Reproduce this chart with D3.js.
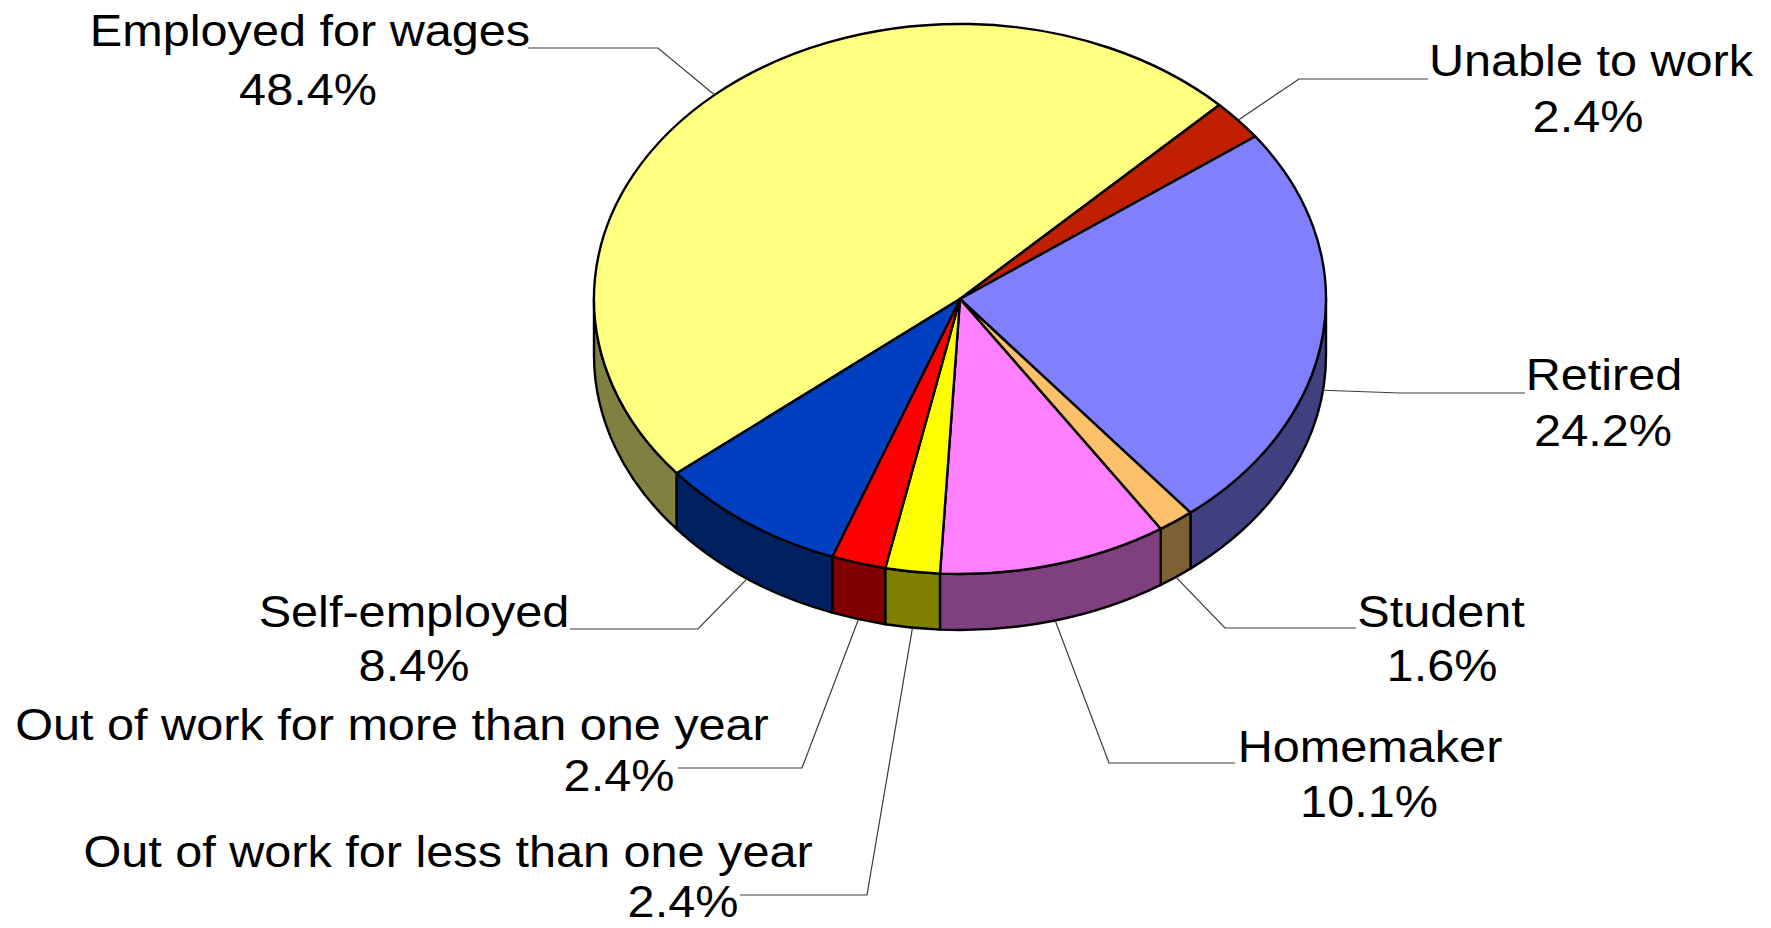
<!DOCTYPE html>
<html>
<head>
<meta charset="utf-8">
<script src="https://cdn.jsdelivr.net/npm/d3@7"></script>
<style>
  html, body { margin: 0; padding: 0; background: #ffffff; }
  svg { display: block; }
  text { font-family: "Liberation Sans", Arial, sans-serif; fill: #000; }
</style>
</head>
<body>
<svg id="chart" width="1771" height="928"></svg>
<script>
// Employment status shares (percent)
const categories = [
  "Employed for wages",
  "Unable to work",
  "Retired",
  "Student",
  "Homemaker",
  "Out of work for less than one year",
  "Out of work for more than one year",
  "Self-employed"
];
const percents = [48.4, 2.4, 24.2, 1.6, 10.1, 2.4, 2.4, 8.4];
const topColors = ["#FFFF80", "#C02000", "#8080FF", "#FCBF6A", "#FF80FF", "#FFFF00", "#FF0000", "#0040C0"];

// Label placement: line-1 anchor, line-2 anchor, leader start (at text) and elbow
const labelLayout = [
  { l1: [310, 46],  l2: [308, 105],  from: [528, 48],  elbow: [658, 48] },
  { l1: [1591, 76], l2: [1588, 132], from: [1428, 79], elbow: [1299, 79] },
  { l1: [1604, 390], l2: [1603, 446], from: [1525, 393], elbow: [1400, 393] },
  { l1: [1441, 627], l2: [1442, 681], from: [1356, 628], elbow: [1225, 628] },
  { l1: [1370, 762], l2: [1369, 817], from: [1235, 763], elbow: [1109, 763] },
  { l1: [448, 867],  l2: [683, 917],  from: [740, 895],  elbow: [867, 895] },
  { l1: [392, 740],  l2: [619, 791],  from: [678, 768],  elbow: [802, 768] },
  { l1: [414, 627],  l2: [414, 681],  from: [570, 629],  elbow: [698, 629] }
];

const svg = d3.select("#chart");
svg.append("rect").attr("width", 1771).attr("height", 928).attr("fill", "#ffffff");

// 3-D pie geometry
const cx = 960, cy = 299, rx = 366, ry = 275, depth = 56;
const firstSliceAngle = -129.3 * Math.PI / 180;

const pie = d3.pie().sort(null).value(d => d)
  .startAngle(firstSliceAngle)
  .endAngle(firstSliceAngle + 2 * Math.PI);
const slices = pie(percents);

const pt = (a, dz) => [cx + rx * Math.sin(a), cy - ry * Math.cos(a) + dz];
const fmt = p => p[0].toFixed(2) + "," + p[1].toFixed(2);
const sideColor = c => { const k = d3.rgb(c); return d3.rgb(k.r * 0.5, k.g * 0.5, k.b * 0.5).formatHex(); };

// front-facing angle intervals within the pie's angle range
const PI = Math.PI;
const frontIntervals = [[PI / 2, 3 * PI / 2], [-3 * PI / 2, -PI / 2]];

const sideGroup = svg.append("g");
slices.forEach((s, i) => {
  frontIntervals.forEach(([f0, f1]) => {
    const s0 = Math.max(s.startAngle, f0), s1 = Math.min(s.endAngle, f1);
    if (s1 - s0 <= 1e-6) return;
    const p0 = pt(s0, 0), p1 = pt(s1, 0), q1 = pt(s1, depth), q0 = pt(s0, depth);
    const d = `M${fmt(p0)}A${rx},${ry} 0 0 1 ${fmt(p1)}L${fmt(q1)}A${rx},${ry} 0 0 0 ${fmt(q0)}Z`;
    sideGroup.append("path")
      .attr("d", d)
      .attr("fill", sideColor(topColors[i]))
      .attr("stroke", "#000")
      .attr("stroke-width", 2.4)
      .attr("stroke-linejoin", "round");
  });
});

const topGroup = svg.append("g");
slices.forEach((s, i) => {
  const p0 = pt(s.startAngle, 0), p1 = pt(s.endAngle, 0);
  const large = (s.endAngle - s.startAngle) > PI ? 1 : 0;
  const d = `M${cx},${cy}L${fmt(p0)}A${rx},${ry} 0 ${large} 1 ${fmt(p1)}Z`;
  topGroup.append("path")
    .attr("d", d)
    .attr("fill", topColors[i])
    .attr("stroke", "#000")
    .attr("stroke-width", 2.4)
    .attr("stroke-linejoin", "round");
});

// leader lines
const line = d3.line();
const leaderGroup = svg.append("g");
slices.forEach((s, i) => {
  const mid = (s.startAngle + s.endAngle) / 2;
  const anchor = pt(mid, Math.cos(mid) < 0 ? depth : 0);
  const L = labelLayout[i];
  leaderGroup.append("path")
    .attr("d", line([L.from, L.elbow, anchor]))
    .attr("fill", "none")
    .attr("stroke", "#3a3a3a")
    .attr("stroke-width", 1.2);
});

// labels
const pctFmt = d3.format(".1f");
const labelGroup = svg.append("g");
const fontSize = 45, stretch = 1.08;
slices.forEach((s, i) => {
  const L = labelLayout[i];
  [[categories[i], L.l1], [pctFmt(percents[i]) + "%", L.l2]].forEach(([txt, pos]) => {
    labelGroup.append("text")
      .attr("transform", `translate(${pos[0]},${pos[1]}) scale(${stretch},1)`)
      .attr("text-anchor", "middle")
      .attr("font-size", fontSize)
      .text(txt);
  });
});
</script>
</body>
</html>
